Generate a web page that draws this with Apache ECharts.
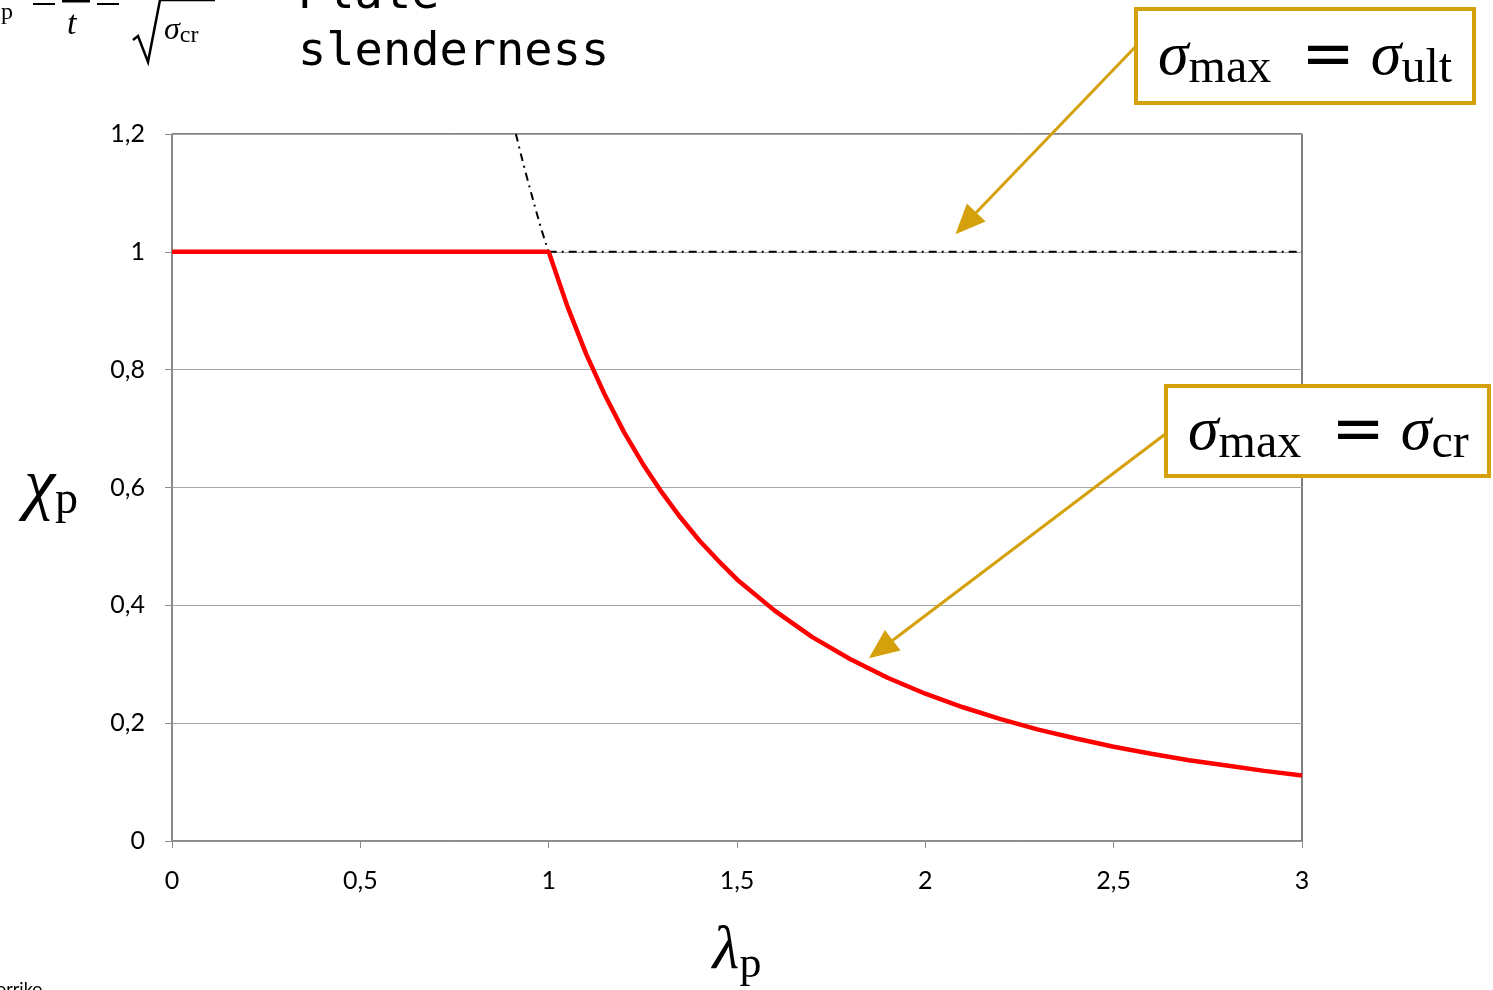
<!DOCTYPE html>
<html>
<head>
<meta charset="utf-8">
<script src="https://cdn.jsdelivr.net/npm/echarts@6/dist/echarts.min.js"></script>
<style>
  html, body { margin: 0; padding: 0; background: #fff; }
  #chart { width: 1493px; height: 990px; }
</style>
</head>
<body>
<div id="chart"></div>
<script>
// reduction factor chi_p
const redX = [0, 1, 1.05, 1.1, 1.15, 1.2, 1.25, 1.3, 1.35, 1.4, 1.45, 1.5, 1.6, 1.7, 1.8, 1.9, 2, 2.1, 2.2, 2.3, 2.4, 2.5, 2.6, 2.7, 2.8, 2.9, 3]
const redY = [1, 1, 0.907, 0.826, 0.756, 0.694, 0.64, 0.592, 0.549, 0.51, 0.476, 0.444, 0.391, 0.346, 0.309, 0.277, 0.25, 0.227, 0.207, 0.189, 0.174, 0.16, 0.148, 0.137, 0.128, 0.119, 0.111]
// black dash-dot elastic curve (sigma_max = sigma_cr)
const eulerX = [0.913, 0.95, 1, 1.1, 1.2, 1.3, 1.4, 1.5, 1.7, 2, 2.5, 3]
const eulerY = [1.2, 1.108, 1, 0.826, 0.694, 0.592, 0.51, 0.444, 0.346, 0.25, 0.16, 0.111]
// black dash-dot plateau (sigma_max = sigma_ult)
const plateauX = [1, 3]
const plateauY = [1, 1]

const gold = '#d4a00c'
const pair = (xs, ys) => xs.map((x, i) => [x, ys[i]])
const comma = (v) => String(v).replace('.', ',')

const chart = echarts.init(document.getElementById('chart'))

const option = {
  animation: false,
  grid: {
    left: 172,
    right: 191,
    top: 134,
    bottom: 149,
    containLabel: false,
    outerBoundsMode: 'none',
    show: true,
    borderColor: '#000',
    borderWidth: 1
  },
  xAxis: {
    type: 'value',
    min: 0,
    max: 3,
    interval: 0.5,
    axisLine: { show: true, lineStyle: { color: '#8c8c8c', width: 1.5 } },
    axisTick: { show: true, length: 7, lineStyle: { color: '#8c8c8c' } },
    splitLine: { show: false },
    axisLabel: {
      margin: 27,
      fontFamily: 'Lato',
      fontSize: 25,
      color: '#000',
      formatter: comma
    },
    name: '{it|λ}{sub|p}',
    nameLocation: 'middle',
    nameGap: 76,
    nameTextStyle: {
      rich: {
        it: { fontFamily: 'Liberation Serif', fontStyle: 'italic', fontSize: 62, color: '#000' },
        sub: { fontFamily: 'Liberation Serif', fontSize: 44, color: '#000', padding: [26, 0, 0, 0] }
      }
    }
  },
  yAxis: {
    type: 'value',
    min: 0,
    max: 1.2,
    interval: 0.2,
    axisLine: { show: true, lineStyle: { color: '#8c8c8c', width: 1.5 } },
    axisTick: { show: true, length: 7, lineStyle: { color: '#8c8c8c' } },
    splitLine: { show: true, lineStyle: { color: '#a6a6a6', width: 1.2 } },
    axisLabel: {
      margin: 27,
      fontFamily: 'Lato',
      fontSize: 25,
      color: '#000',
      formatter: comma
    },
    name: '{it|χ}{sub|p}',
    nameLocation: 'middle',
    nameRotate: 0,
    nameGap: 94,
    nameTextStyle: {
      rich: {
        it: { fontFamily: 'Liberation Serif', fontStyle: 'italic', fontSize: 70, color: '#000' },
        sub: { fontFamily: 'Liberation Serif', fontSize: 46, color: '#000', padding: [26, 0, 0, 0] }
      }
    }
  },
  series: [
    {
      name: 'elastic',
      type: 'line',
      data: pair(eulerX, eulerY),
      smooth: 0.4,
      symbol: 'none',
      z: 2,
      lineStyle: { color: '#000', width: 2, type: [8, 5, 2, 5] }
    },
    {
      name: 'plateau',
      type: 'line',
      data: pair(plateauX, plateauY),
      symbol: 'none',
      z: 2,
      lineStyle: { color: '#000', width: 2, type: [8, 5, 2, 5] }
    },
    {
      name: 'chi',
      type: 'line',
      data: pair(redX, redY),
      symbol: 'none',
      z: 3,
      lineStyle: { color: '#ff0000', width: 4.5 }
    }
  ]
}
chart.setOption(option)

// annotation boxes and arrows
const tip1 = chart.convertToPixel({ gridIndex: 0 }, [2.08, 1.03])
const tip2 = chart.convertToPixel({ gridIndex: 0 }, [1.85, 0.31])

const arrow = (from, to) => {
  const dx = to[0] - from[0], dy = to[1] - from[1]
  const len = Math.sqrt(dx * dx + dy * dy)
  const ux = dx / len, uy = dy / len
  const headL = 30, headW = 13
  const bx = to[0] - ux * headL, by = to[1] - uy * headL
  return [
    {
      type: 'line',
      shape: { x1: from[0], y1: from[1], x2: bx, y2: by },
      style: { stroke: gold, lineWidth: 3 }
    },
    {
      type: 'polygon',
      shape: { points: [to, [bx - uy * headW, by + ux * headW], [bx + uy * headW, by - ux * headW]] },
      style: { fill: gold }
    }
  ]
}

const mathRich = {
  it: { fontFamily: 'Liberation Serif', fontStyle: 'italic', fontSize: 62, fill: '#000' },
  sub: { fontFamily: 'Liberation Serif', fontSize: 48, fill: '#000', padding: [22, 0, 0, 0] },
  eq: { fontFamily: 'DejaVu Sans', fontSize: 64, fill: '#000', padding: [0, 16, 0, 30] }
}

chart.setOption({
  graphic: [
    ...arrow([1140, 42], tip1),
    ...arrow([1168, 432], tip2),
    {
      type: 'rect',
      shape: { x: 1136, y: 9, width: 338, height: 94 },
      style: { fill: '#fff', stroke: gold, lineWidth: 4 }
    },
    {
      type: 'text',
      x: 1158, y: 58,
      style: { text: '{it|σ}{sub|max}{eq|=}{it|σ}{sub|ult}', rich: mathRich, verticalAlign: 'middle' }
    },
    {
      type: 'rect',
      shape: { x: 1166, y: 386, width: 323, height: 90 },
      style: { fill: '#fff', stroke: gold, lineWidth: 4 }
    },
    {
      type: 'text',
      x: 1188, y: 433,
      style: { text: '{it|σ}{sub|max}{eq|=}{it|σ}{sub|cr}', rich: mathRich, verticalAlign: 'middle' }
    },
    // cropped formula and caption at the top
    {
      type: 'text', x: 1, y: 1,
      style: { text: 'p', fontFamily: 'Liberation Serif', fontSize: 24, fill: '#000' }
    },
    {
      type: 'rect', shape: { x: 33, y: 3, width: 22, height: 2 }, style: { fill: '#000' }
    },
    {
      type: 'rect', shape: { x: 62, y: 0, width: 28, height: 2.5 }, style: { fill: '#000' }
    },
    {
      type: 'text', x: 67, y: 8,
      style: { text: 't', fontFamily: 'Liberation Serif', fontStyle: 'italic', fontSize: 34, fill: '#000' }
    },
    {
      type: 'rect', shape: { x: 97, y: 3, width: 22, height: 2 }, style: { fill: '#000' }
    },
    {
      type: 'polyline',
      shape: { points: [[133, 40], [138, 36], [148, 62], [160, 0], [215, 0]] },
      style: { stroke: '#000', lineWidth: 2.5, fill: null }
    },
    {
      type: 'text', x: 164, y: 14,
      style: { text: '{it|σ}{sub|cr}', rich: {
        it: { fontFamily: 'Liberation Serif', fontStyle: 'italic', fontSize: 32, fill: '#000' },
        sub: { fontFamily: 'Liberation Serif', fontSize: 24, fill: '#000', padding: [10, 0, 0, 0] }
      } }
    },
    {
      type: 'text', x: 298, y: -28,
      style: { text: 'Plate', fontFamily: 'DejaVu Sans Mono', fontSize: 47, fill: '#000' }
    },
    {
      type: 'text', x: 298, y: 29,
      style: { text: 'slenderness', fontFamily: 'DejaVu Sans Mono', fontSize: 47, fill: '#000' }
    },
    {
      type: 'text', x: -4, y: 980,
      style: { text: 'orriko', fontFamily: 'Lato', fontSize: 18, fill: '#000' }
    }
  ]
})
</script>
</body>
</html>
